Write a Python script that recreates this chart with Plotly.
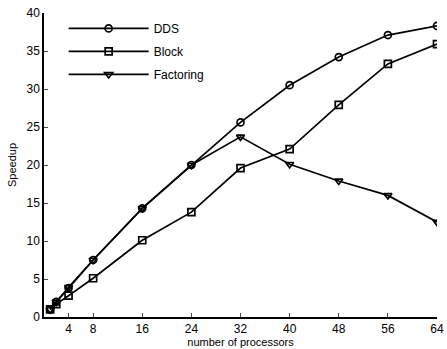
import plotly.graph_objects as go

procs = [1, 2, 4, 8, 16, 24, 32, 40, 48, 56, 64]
dds = [1.0, 2.0, 3.8, 7.5, 14.3, 20.0, 25.6, 30.5, 34.2, 37.1, 38.3]
block = [1.0, 1.7, 2.8, 5.1, 10.1, 13.8, 19.6, 22.1, 27.9, 33.3, 35.9]
factoring = [1.0, 2.0, 3.9, 7.5, 14.3, 20.0, 23.7, 20.1, 17.9, 16.0, 12.5]
x_ticks = [4, 8, 16, 24, 32, 40, 48, 56, 64]
y_ticks = [0, 5, 10, 15, 20, 25, 30, 35, 40]

font = "Liberation Sans, Arial, sans-serif"
fig = go.Figure()
for name, vals, sym in [("DDS", dds, "circle-open"), ("Block", block, "square-open"),
                        ("Factoring", factoring, "triangle-down-open")]:
    fig.add_trace(go.Scatter(
        x=procs, y=vals, name=name, mode="lines+markers", legendgroup=name,
        line=dict(color="black", width=1.7),
        marker=dict(symbol=sym, size=7, color="black", line=dict(width=1.7, color="black")),
    ))

fig.update_layout(
    template="none",
    width=447, height=349,
    margin=dict(l=44, r=10, t=13, b=32, autoexpand=False),
    paper_bgcolor="white", plot_bgcolor="white",
    font=dict(family=font, size=12, color="black"),
    showlegend=True,
    legend=dict(x=0.05, y=0.997, xanchor="left", yanchor="top",
                bgcolor="rgba(0,0,0,0)", font=dict(size=12, family=font),
                itemwidth=80, tracegroupgap=4),
    xaxis=dict(range=[0, 64], tickvals=x_ticks, ticks="inside", ticklen=4, tickwidth=1.2,
               showline=True, linecolor="black", linewidth=1.5, showgrid=False,
               zeroline=False, automargin=False, ticklabeloverflow="allow",
               tickfont=dict(size=12, family=font),
               title=dict(text="number of processors", standoff=0, font=dict(size=11, family=font))),
    yaxis=dict(range=[0, 40], tickvals=y_ticks, ticks="inside", ticklen=4, tickwidth=1.2,
               showline=True, linecolor="black", linewidth=1.5, showgrid=False,
               zeroline=False, automargin=False, ticklabeloverflow="allow",
               tickfont=dict(size=12, family=font),
               title=dict(text="Speedup", standoff=8, font=dict(size=11, family=font))),
)
fig.write_html("out.html", config={"displayModeBar": False},
               post_script="document.body.style.margin='0';document.body.style.overflow='hidden';")
